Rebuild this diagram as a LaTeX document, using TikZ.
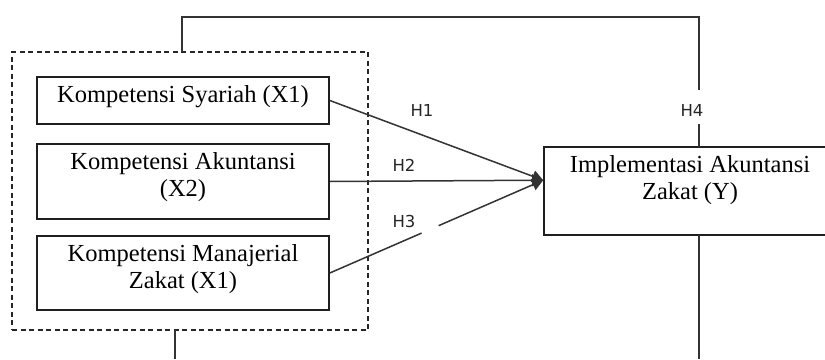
\documentclass[tikz,border=0pt]{standalone}
\usepackage{fontspec}
\setmainfont{Liberation Serif}
\newfontfamily\labfont{DejaVu Sans}
\usetikzlibrary{arrows.meta,calc}
\begin{document}
\begin{tikzpicture}[x=1pt,y=-1pt,
  box/.style={draw=black!88, line width=1.6pt, minimum width=292pt, inner sep=0pt},
  boxtext/.style={font=\fontsize{24.5}{27}\selectfont, align=center, anchor=north, inner sep=0pt},
  conn/.style={draw=black!80, line width=1.5pt},
  hlabel/.style={font=\labfont\fontsize{16.5}{18}\selectfont, text=black!85, inner sep=0pt},
  tipend/.style={-{Triangle[length=11pt,width=12pt]}}
]
\useasboundingbox (0,0) rectangle (825,359);
\clip (0,0) rectangle (825,359);

% group (dashed)
\node[draw=black!85, dash pattern=on 5pt off 3.5pt, line width=1.4pt, minimum width=356pt, minimum height=278pt, inner sep=0pt] (grp) at (190,191) {};

% boxes
\node[box, minimum height=47pt] (b1) at (183,100.5) {};
\node[box, minimum height=75pt] (b2) at (183,181.5) {};
\node[box, minimum height=74pt] (b3) at (183,273) {};
\node[box, minimum height=88pt] (yb) at (690,191) {};

\node[boxtext] (t1) at ($(b1.north)+(0,9)$) {Kompetensi Syariah (X1)};
\node[boxtext] (t2) at ($(b2.north)+(0,9)$) {Kompetensi Akuntansi\\(X2)};
\node[boxtext] (t3) at ($(b3.north)+(0,9)$) {Kompetensi Manajerial\\Zakat (X1)};
\node[boxtext] (ty) at ($(yb.north)+(0,9)$) {Implementasi Akuntansi\\Zakat (Y)};

% coordinates
\coordinate (tgt) at ($(yb.north west)+(0,34)$);
\coordinate (gtop) at (182,52);
\coordinate (c1) at (182,17);
\coordinate (c2) at (699,17);
\coordinate (h4a) at (699,90);
\coordinate (h4b) at (699,124);
\coordinate (ytop) at (699,147);
\coordinate (gbot) at (175,330);
\coordinate (gbotend) at (175,359);
\coordinate (ybot) at (699,235);
\coordinate (ybotend) at (699,359);

% connectors
\draw[conn, tipend] (b1.east) -- (tgt);
\draw[conn, tipend] (b2.east) -- (tgt);
\draw[conn] (b3.east) -- ($(b3.east)!0.43!(tgt)$);
\draw[conn, tipend] ($(b3.east)!0.51!(tgt)$) -- (tgt);

\draw[conn] (gtop) -- (c1) -- (c2) -- (h4a);
\draw[conn] (h4b) -- (ytop);
\draw[conn] (gbot) -- (gbotend);
\draw[conn] (ybot) -- (ybotend);

% labels
\node[hlabel] (h1) at (422,110) {H1};
\node[hlabel] (h2) at (404,165) {H2};
\node[hlabel] (h3) at (404,221) {H3};
\node[hlabel] (h4) at (692,110) {H4};
\end{tikzpicture}
\end{document}
